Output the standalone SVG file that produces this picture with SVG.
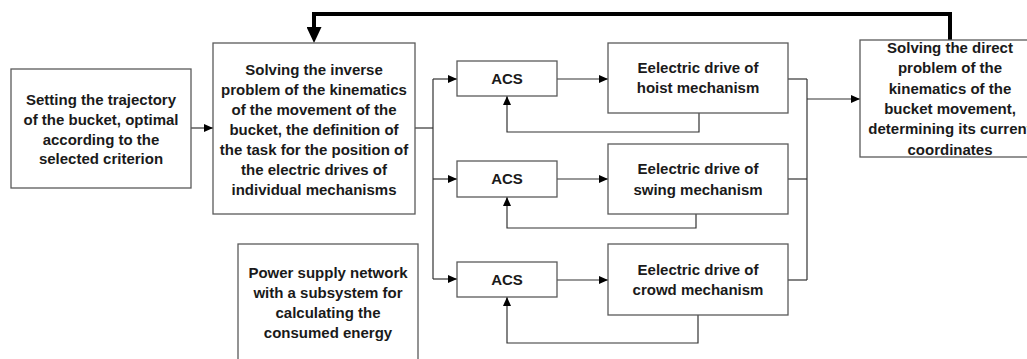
<svg xmlns="http://www.w3.org/2000/svg" width="1027" height="359" viewBox="0 0 1027 359">
<style>
.box{fill:#fff;stroke:#5a5a5a;stroke-width:1.3}
.t{font-family:"Liberation Sans",Arial,sans-serif;font-weight:bold;font-size:15px;fill:#1a1a1a;text-anchor:middle}
.c{fill:none;stroke:#333;stroke-width:1.2}
.fb{fill:none;stroke:#000;stroke-width:4}
</style>
<defs>
<marker id="ah" markerUnits="userSpaceOnUse" markerWidth="9" markerHeight="8" refX="9" refY="4" orient="auto">
<path d="M0,0 L9,4 L0,8 z" fill="#000"/>
</marker>
<marker id="big" markerUnits="userSpaceOnUse" markerWidth="16" markerHeight="15" refX="3" refY="7.5" orient="auto">
<path d="M0,0 L16,7.5 L0,15 z" fill="#000"/>
</marker>
</defs>
<rect width="1027" height="359" fill="#fff"/>
<g id="connectors">
<path class="c" d="M191,128 H213" marker-end="url(#ah)"/>
<path class="c" d="M415,128 H433"/>
<path class="c" d="M433,79 V279"/>
<path class="c" d="M433,79 H457" marker-end="url(#ah)"/>
<path class="c" d="M433,179 H457" marker-end="url(#ah)"/>
<path class="c" d="M433,279 H457" marker-end="url(#ah)"/>
<path class="c" d="M557,79 H608" marker-end="url(#ah)"/>
<path class="c" d="M557,179 H608" marker-end="url(#ah)"/>
<path class="c" d="M557,280 H608" marker-end="url(#ah)"/>
<path class="c" d="M699,113 V132 H507 V96" marker-end="url(#ah)"/>
<path class="c" d="M696,214 V228 H507 V197" marker-end="url(#ah)"/>
<path class="c" d="M698,315 V343 H507 V297" marker-end="url(#ah)"/>
<path class="c" d="M788,79 H807"/>
<path class="c" d="M788,179 H807"/>
<path class="c" d="M788,280 H807"/>
<path class="c" d="M807,79 V280"/>
<path class="c" d="M807,99 H860" marker-end="url(#ah)"/>
<path class="fb" d="M950,40 V14 H314 V30" marker-end="url(#big)"/>
</g>
<g id="trajectory">
<rect class="box" x="11" y="69" width="180" height="119"/>
<text class="t" x="101" y="105">Setting the trajectory</text>
<text class="t" x="101" y="125">of the bucket, optimal</text>
<text class="t" x="101" y="145">according to the</text>
<text class="t" x="101" y="164">selected criterion</text>
</g>
<g id="inverse">
<rect class="box" x="213" y="43" width="202" height="171"/>
<text class="t" x="314" y="75">Solving  the inverse</text>
<text class="t" x="314" y="95">problem of the kinematics</text>
<text class="t" x="314" y="115">of the movement of the</text>
<text class="t" x="314" y="135">bucket, the definition of</text>
<text class="t" x="314" y="155">the task for the position of</text>
<text class="t" x="314" y="175">the electric drives of</text>
<text class="t" x="314" y="195">individual mechanisms</text>
</g>
<g id="power">
<rect class="box" x="238" y="244" width="180" height="130"/>
<text class="t" x="328" y="278">Power supply network</text>
<text class="t" x="328" y="298">with a subsystem for</text>
<text class="t" x="328" y="318">calculating the</text>
<text class="t" x="328" y="338">consumed energy</text>
</g>
<g id="acs1">
<rect class="box" x="457" y="61" width="100" height="35"/>
<text class="t" x="507" y="84">ACS</text>
</g>
<g id="acs2">
<rect class="box" x="457" y="161" width="100" height="36"/>
<text class="t" x="507" y="184">ACS</text>
</g>
<g id="acs3">
<rect class="box" x="457" y="262" width="100" height="35"/>
<text class="t" x="507" y="285">ACS</text>
</g>
<g id="drive-hoist">
<rect class="box" x="608" y="43" width="180" height="70"/>
<text class="t" x="698" y="73">Eelectric drive of</text>
<text class="t" x="698" y="93">hoist mechanism</text>
</g>
<g id="drive-swing">
<rect class="box" x="608" y="144" width="180" height="70"/>
<text class="t" x="698" y="174">Eelectric drive of</text>
<text class="t" x="698" y="195">swing mechanism</text>
</g>
<g id="drive-crowd">
<rect class="box" x="608" y="244" width="180" height="71"/>
<text class="t" x="698" y="275">Eelectric drive of</text>
<text class="t" x="698" y="295">crowd mechanism</text>
</g>
<g id="direct">
<rect class="box" x="860" y="40" width="190" height="117"/>
<text class="t" x="950" y="53">Solving the direct</text>
<text class="t" x="950" y="73">problem of the</text>
<text class="t" x="950" y="94">kinematics of the</text>
<text class="t" x="950" y="114">bucket movement,</text>
<text class="t" x="950" y="134">determining its current</text>
<text class="t" x="950" y="155">coordinates</text>
</g>
</svg>
